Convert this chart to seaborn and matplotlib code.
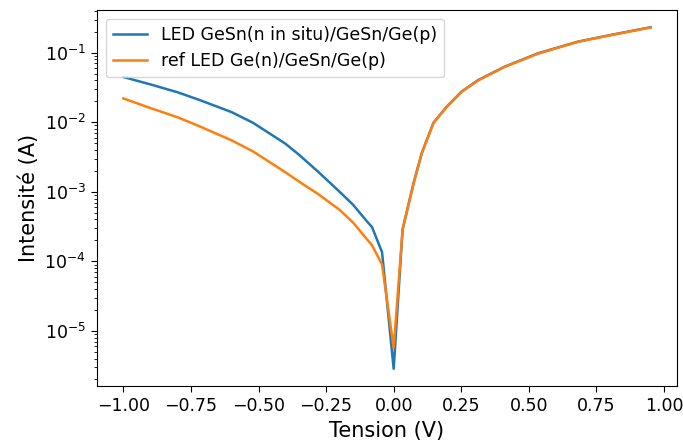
import numpy as np
import pandas as pd
import seaborn as sns
import matplotlib
matplotlib.use('Agg')
import matplotlib.pyplot as plt

v_neg = [-1.0, -0.9, -0.8, -0.72, -0.6, -0.52, -0.4, -0.35, -0.28, -0.2, -0.15, -0.1, -0.08, -0.043, 0.0]
i_insitu_neg = [4.47e-2, 3.5e-2, 2.7e-2, 2.1e-2, 1.4e-2, 9.8e-3, 4.9e-3, 3.4e-3, 1.95e-3, 1.0e-3,
                6.5e-4, 3.8e-4, 3.1e-4, 1.35e-4, 2.85e-6]
i_ref_neg = [2.2e-2, 1.6e-2, 1.18e-2, 8.8e-3, 5.5e-3, 3.8e-3, 1.9e-3, 1.4e-3, 9.3e-4, 5.5e-4,
             3.6e-4, 2.1e-4, 1.7e-4, 9.0e-5, 5.7e-6]

v_pos = [0.033, 0.074, 0.104, 0.147, 0.196, 0.251, 0.313, 0.411, 0.534, 0.681, 0.804, 0.95]
i_insitu_pos = [2.9e-4, 1.35e-3, 3.6e-3, 9.8e-3, 1.67e-2, 2.75e-2, 4.05e-2, 6.3e-2, 9.8e-2, 0.144, 0.18, 0.232]
i_ref_pos = [2.85e-4, 1.33e-3, 3.6e-3, 9.7e-3, 1.66e-2, 2.74e-2, 4.0e-2, 6.25e-2, 9.7e-2, 0.143, 0.179, 0.23]

labels = ['LED GeSn(n in situ)/GeSn/Ge(p)', 'ref LED Ge(n)/GeSn/Ge(p)']

insitu = pd.DataFrame({'V': v_neg + v_pos, 'I': i_insitu_neg + i_insitu_pos})
ref = pd.DataFrame({'V': v_neg + v_pos, 'I': i_ref_neg + i_ref_pos})

fig, ax = plt.subplots(figsize=(6.83, 4.43), dpi=100)
fig.subplots_adjust(left=0.142, right=0.991, top=0.977, bottom=0.129)

sns.lineplot(data=insitu, x='V', y='I', ax=ax, color='#1f77b4', label=labels[0], sort=False, lw=1.8)
sns.lineplot(data=ref, x='V', y='I', ax=ax, color='#ff7f0e', label=labels[1], sort=False, lw=1.8)

ax.set_yscale('log')
ax.set_xlabel('Tension (V)', fontsize=15)
ax.set_ylabel('Intensité (A)', fontsize=15)
ax.tick_params(labelsize=12.5, length=4.5)
ax.tick_params(which='minor', length=2.5)
ax.legend(loc='upper left', fontsize=12.5)

fig.savefig('out.png', dpi=100)
